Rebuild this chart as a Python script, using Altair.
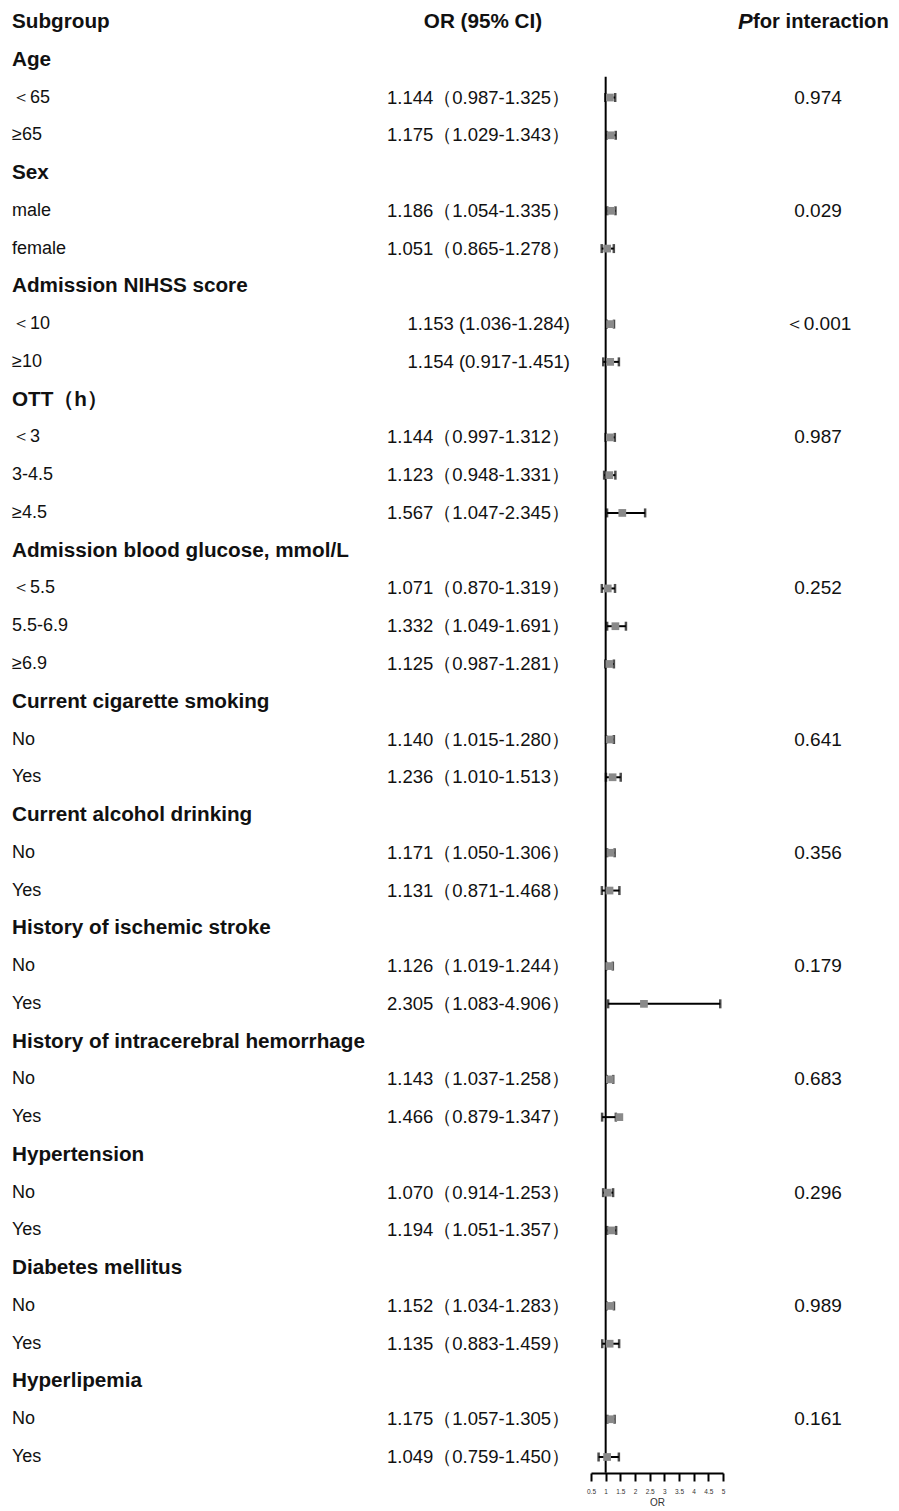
import altair as alt
import pandas as pd

# ---- data -----------------------------------------------------------------
labels = [
    "Age", "＜65", "≥65",
    "Sex", "male", "female",
    "Admission NIHSS score", "＜10", "≥10",
    "OTT（h）", "＜3", "3-4.5", "≥4.5",
    "Admission blood glucose, mmol/L", "＜5.5", "5.5-6.9", "≥6.9",
    "Current cigarette smoking", "No", "Yes",
    "Current alcohol drinking", "No", "Yes",
    "History of ischemic stroke", "No", "Yes",
    "History of intracerebral hemorrhage", "No", "Yes",
    "Hypertension", "No", "Yes",
    "Diabetes mellitus", "No", "Yes",
    "Hyperlipemia", "No", "Yes",
]
is_group = [
    1, 0, 0,
    1, 0, 0,
    1, 0, 0,
    1, 0, 0, 0,
    1, 0, 0, 0,
    1, 0, 0,
    1, 0, 0,
    1, 0, 0,
    1, 0, 0,
    1, 0, 0,
    1, 0, 0,
    1, 0, 0,
]
or_vals = [
    None, 1.144, 1.175,
    None, 1.186, 1.051,
    None, 1.153, 1.154,
    None, 1.144, 1.123, 1.567,
    None, 1.071, 1.332, 1.125,
    None, 1.140, 1.236,
    None, 1.171, 1.131,
    None, 1.126, 2.305,
    None, 1.143, 1.466,
    None, 1.070, 1.194,
    None, 1.152, 1.135,
    None, 1.175, 1.049,
]
lo_vals = [
    None, 0.987, 1.029,
    None, 1.054, 0.865,
    None, 1.036, 0.917,
    None, 0.997, 0.948, 1.047,
    None, 0.870, 1.049, 0.987,
    None, 1.015, 1.010,
    None, 1.050, 0.871,
    None, 1.019, 1.083,
    None, 1.037, 0.879,
    None, 0.914, 1.051,
    None, 1.034, 0.883,
    None, 1.057, 0.759,
]
hi_vals = [
    None, 1.325, 1.343,
    None, 1.335, 1.278,
    None, 1.284, 1.451,
    None, 1.312, 1.331, 2.345,
    None, 1.319, 1.691, 1.281,
    None, 1.280, 1.513,
    None, 1.306, 1.468,
    None, 1.244, 4.906,
    None, 1.258, 1.347,
    None, 1.253, 1.357,
    None, 1.283, 1.459,
    None, 1.305, 1.450,
]
ci_labels = [
    "", "1.144（0.987-1.325）", "1.175（1.029-1.343）",
    "", "1.186（1.054-1.335）", "1.051（0.865-1.278）",
    "", "1.153  (1.036-1.284)", "1.154  (0.917-1.451)",
    "", "1.144（0.997-1.312）", "1.123（0.948-1.331）", "1.567（1.047-2.345）",
    "", "1.071（0.870-1.319）", "1.332（1.049-1.691）", "1.125（0.987-1.281）",
    "", "1.140（1.015-1.280）", "1.236（1.010-1.513）",
    "", "1.171（1.050-1.306）", "1.131（0.871-1.468）",
    "", "1.126（1.019-1.244）", "2.305（1.083-4.906）",
    "", "1.143（1.037-1.258）", "1.466（0.879-1.347）",
    "", "1.070（0.914-1.253）", "1.194（1.051-1.357）",
    "", "1.152（1.034-1.283）", "1.135（0.883-1.459）",
    "", "1.175（1.057-1.305）", "1.049（0.759-1.450）",
]
p_labels = [
    "", "0.974", "",
    "", "0.029", "",
    "", "＜0.001", "",
    "", "0.987", "", "",
    "", "0.252", "", "",
    "", "0.641", "",
    "", "0.356", "",
    "", "0.179", "",
    "", "0.683", "",
    "", "0.296", "",
    "", "0.989", "",
    "", "0.161", "",
]
headers = ["Subgroup", "OR (95% CI)", "P", "for interaction"]
x_ticks = [0.5, 1, 1.5, 2, 2.5, 3, 3.5, 4, 4.5, 5]
ref_value = [1.0]

# ---- table ----------------------------------------------------------------
df = pd.DataFrame({
    "row": list(range(1, len(labels) + 1)),
    "label": labels,
    "group": is_group,
    "or": or_vals,
    "lo": lo_vals,
    "hi": hi_vals,
    "ci": ci_labels,
    "p": p_labels,
})
est = df[df["group"] == 0]
hdr = pd.DataFrame({"row": [0] * 4, "text": headers})
ref = pd.DataFrame({"x": ref_value, "y1": [1.45], "y2": [38.42]})

FONT = "Liberation Sans"
COL = "#111111"
BOLD_SIZE = 20.7
yscale = alt.Scale(domain=[0, 38], range=[14, 1449])
xscale = alt.Scale(domain=[0.5, 5], range=[583, 715], nice=False, zero=False)
Y = alt.Y("row:Q", scale=yscale, axis=None)

base = alt.Chart(df)

group_txt = base.transform_filter("datum.group == 1").mark_text(
    align="left", baseline="middle", font=FONT, fontSize=BOLD_SIZE, fontWeight="bold", color=COL
).encode(x=alt.value(4), y=Y, text="label:N")

item_txt = base.transform_filter("datum.group == 0").mark_text(
    align="left", baseline="middle", font=FONT, fontSize=18, color=COL
).encode(x=alt.value(4), y=Y, text="label:N")

ci_txt = base.transform_filter("datum.group == 0").mark_text(
    align="right", baseline="middle", font=FONT, fontSize=18.5, color=COL
).encode(x=alt.value(562), y=Y, text="ci:N")

p_txt = base.transform_filter("datum.group == 0").mark_text(
    align="center", baseline="middle", font=FONT, fontSize=19, color=COL
).encode(x=alt.value(810), y=Y, text="p:N")

hbase = alt.Chart(hdr)
h_sub = hbase.transform_filter("datum.text == 'Subgroup'").mark_text(
    align="left", baseline="middle", font=FONT, fontSize=BOLD_SIZE, fontWeight="bold", color=COL
).encode(x=alt.value(4), y=Y, text="text:N")
h_or = hbase.transform_filter("datum.text == 'OR (95% CI)'").mark_text(
    align="center", baseline="middle", font=FONT, fontSize=BOLD_SIZE, fontWeight="bold", color=COL
).encode(x=alt.value(475), y=Y, text="text:N")
h_p = hbase.transform_filter("datum.text == 'P'").mark_text(
    align="left", baseline="middle", font=FONT, fontSize=22, fontWeight="bold",
    fontStyle="italic", color=COL
).encode(x=alt.value(730), y=Y, text="text:N")
h_int = hbase.transform_filter("datum.text == 'for interaction'").mark_text(
    align="left", baseline="middle", font=FONT, fontSize=20.2, fontWeight="bold", color=COL
).encode(x=alt.value(745), y=Y, text="text:N")

ref_rule = alt.Chart(ref).mark_rule(color="#000000", strokeWidth=2).encode(
    x=alt.X("x:Q", scale=xscale,
            axis=alt.Axis(values=x_ticks, format="~g", title="OR", grid=False,
                          domainColor="#000000", domainWidth=2, tickColor="#000000",
                          tickWidth=2, tickSize=8, labelFontSize=6.5, labelColor="#333333",
                          labelFont=FONT, labelPadding=7, titleFont=FONT, titleFontSize=10,
                          titleFontWeight="normal", titleColor="#333333", titlePadding=3,
                          labelFlush=False)),
    y=alt.Y("y1:Q", scale=yscale, axis=None),
    y2="y2:Q",
)

ci_rule = alt.Chart(est).mark_rule(color="#000000", strokeWidth=2).encode(
    x=alt.X("lo:Q", scale=xscale), x2="hi:Q", y=Y
)
cap_lo = alt.Chart(est).mark_tick(orient="vertical", color="#000000", size=9, thickness=2.5).encode(
    x=alt.X("lo:Q", scale=xscale), y=Y
)
cap_hi = alt.Chart(est).mark_tick(orient="vertical", color="#000000", size=9, thickness=2.5).encode(
    x=alt.X("hi:Q", scale=xscale), y=Y
)
pts = alt.Chart(est).mark_square(color="#8a8a8a", opacity=1, size=60, filled=True).encode(
    x=alt.X("or:Q", scale=xscale), y=Y
)

chart = alt.layer(
    ref_rule, ci_rule, cap_lo, cap_hi, pts,
    group_txt, item_txt, ci_txt, p_txt, h_sub, h_or, h_p, h_int,
).properties(
    width=878, height=1465, padding={"left": 0, "top": 0, "right": 0, "bottom": 0}
).configure(background="#ffffff").configure_view(stroke=None, strokeWidth=0)

chart.save("out.html", embed_options={"renderer": "svg", "actions": False})
